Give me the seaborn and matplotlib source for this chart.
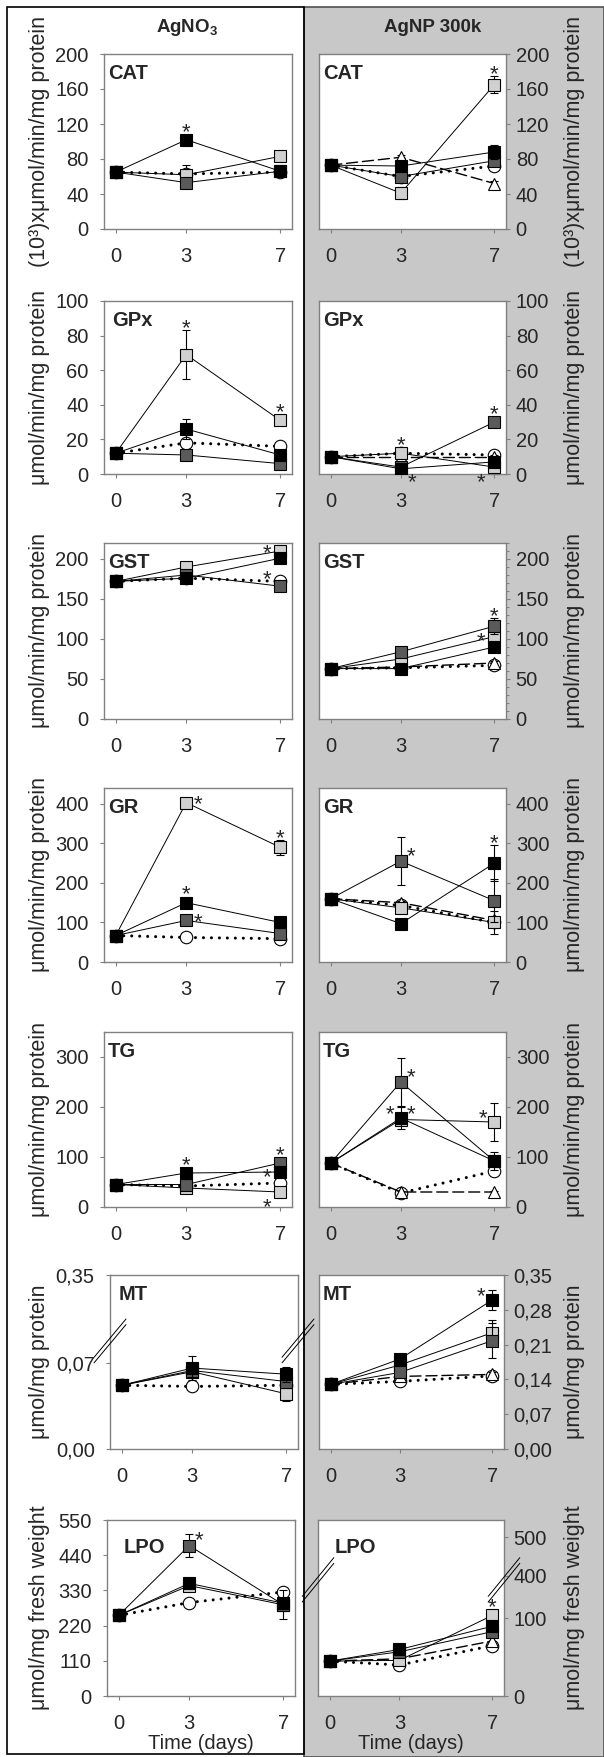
import matplotlib
matplotlib.use("Agg")
import matplotlib.pyplot as plt
from matplotlib.patches import Rectangle
from matplotlib.ticker import FixedLocator, FixedFormatter, MultipleLocator, NullLocator
import numpy as np
import pandas as pd
import seaborn as sns

DAYS = [0, 3, 7]
ENZYMES = ["CAT", "GPx", "GST", "GR", "TG", "MT", "LPO"]
YLABELS = ["(10³)xμmol/min/mg protein", "μmol/min/mg protein", "μmol/min/mg protein",
           "μmol/min/mg protein", "μmol/min/mg protein", "μmol/mg protein",
           "μmol/mg fresh weight"]
TITLES = ["AgNO$_\\mathbf{3}$", "AgNP 300k"]

# rows: CAT, GPx, GST, GR, TG, MT, LPO ; columns: day 0, 3, 7
# AgNO3
AG_CTRL = [[65, 63, 65], [12, 18, 16], [172, 176, 172], [67, 62, 59],
           [45, 42, 48], [0.052, 0.051, 0.052], [252, 292, 325]]
AG_LIGHT = [[65, 62, 83], [12, 69, 31], [172, 190, 210], [67, 403, 290],
            [45, 38, 30], [0.052, 0.063, 0.045], [252, 345, 285]]
AG_DARK = [[65, 53, 66], [12, 11, 6], [172, 180, 166], [67, 105, 72],
           [45, 45, 88], [0.052, 0.064, 0.055], [252, 470, 285]]
AG_BLACK = [[65, 102, 66], [12, 26, 11], [172, 176, 201], [67, 150, 100],
            [45, 68, 70], [0.052, 0.066, 0.061], [252, 352, 290]]
AG_CTRL_ERR = [[2, 10, 3], [1, 3, 2], [3, 3, 3], [3, 3, 3],
               [2, 2, 3], [0.002, 0.002, 0.002], [8, 5, 12]]
AG_LIGHT_ERR = [[2, 5, 4], [2, 14, 2], [3, 3, 3], [3, 5, 19],
                [2, 3, 3], [0.002, 0.004, 0.006], [8, 8, 10]]
AG_DARK_ERR = [[2, 4, 3], [1, 2, 2], [3, 3, 3], [3, 6, 5],
               [2, 3, 4], [0.002, 0.003, 0.004], [8, 35, 45]]
AG_BLACK_ERR = [[2, 3, 3], [1, 6, 2], [3, 3, 3], [3, 6, 8],
                [2, 4, 4], [0.002, 0.01, 0.006], [8, 10, 15]]

# AgNP 300k
NP_CTRL = [[73, 60, 72], [10, 12, 11], [63, 64, 67], [160, 143, 100],
           [88, 28, 72], [0.13, 0.136, 0.147], [45, 40, 65]]
NP_DISP = [[73, 82, 52], [10, 10, 10], [63, 65, 70], [160, 150, 105],
           [88, 30, 30], [0.13, 0.146, 0.15], [45, 48, 71]]
NP_LIGHT = [[73, 41, 165], [10, 12, 4], [63, 75, 103], [160, 137, 100],
            [88, 175, 170], [0.13, 0.169, 0.234], [45, 46, 104]]
NP_DARK = [[73, 60, 78], [10, 4, 30], [63, 84, 116], [160, 255, 155],
           [88, 250, 92], [0.13, 0.154, 0.218], [45, 57, 83]]
NP_BLACK = [[73, 72, 88], [10, 3, 7], [63, 63, 90], [160, 97, 250],
            [88, 178, 92], [0.13, 0.181, 0.30], [45, 60, 90]]
NP_CTRL_ERR = [[3, 4, 3], [1, 1, 1], [2, 2, 3], [5, 5, 5],
               [5, 3, 4], [0.005, 0.004, 0.004], [3, 3, 5]]
NP_DISP_ERR = [[3, 3, 3], [1, 1, 1], [2, 2, 3], [5, 5, 5],
               [5, 3, 3], [0.005, 0.004, 0.004], [3, 3, 4]]
NP_LIGHT_ERR = [[3, 7, 10], [1, 2, 1], [2, 2, 5], [5, 8, 30],
                [5, 5, 38], [0.005, 0.006, 0.025], [3, 3, 6]]
NP_DARK_ERR = [[3, 5, 5], [1, 1, 2], [2, 3, 10], [5, 60, 55],
               [5, 48, 5], [0.005, 0.006, 0.035], [3, 3, 4]]
NP_BLACK_ERR = [[3, 4, 8], [1, 1, 1], [2, 2, 5], [5, 5, 45],
                [5, 22, 18], [0.005, 0.006, 0.02], [3, 3, 4]]

AG_YTICKS = [[0, 40, 80, 120, 160, 200], [0, 20, 40, 60, 80, 100], [0, 50, 100, 150, 200],
             [0, 100, 200, 300, 400], [0, 100, 200, 300], [0, 0.07, 0.35],
             [0, 110, 220, 330, 440, 550]]
NP_YTICKS = [[0, 40, 80, 120, 160, 200], [0, 20, 40, 60, 80, 100], [0, 50, 100, 150, 200],
             [0, 100, 200, 300, 400], [0, 100, 200, 300], [0, 0.07, 0.14, 0.21, 0.28, 0.35],
             [0, 100, 400, 500]]
AG_YMAX = [200, 100, 220, 440, 350, 0.35, 550]
NP_YMAX = [200, 100, 220, 440, 350, 0.35, 545]

# significance marks: (endpoint, series, day, placement)
AG_STARS = [("CAT", "black", 3, "above"), ("GPx", "light", 3, "above"), ("GPx", "light", 7, "above"),
            ("GST", "light", 7, "highleft"), ("GST", "black", 7, "deepleft"),
            ("GR", "light", 3, "right"), ("GR", "light", 7, "above"), ("GR", "black", 3, "above"),
            ("GR", "dark", 3, "right"), ("TG", "black", 3, "above"), ("TG", "dark", 7, "above"),
            ("TG", "black", 7, "left"), ("TG", "light", 7, "lowleft"), ("LPO", "dark", 3, "upright")]
NP_STARS = [("CAT", "light", 7, "above"), ("GPx", "light", 3, "above"), ("GPx", "black", 3, "lowright"),
            ("GPx", "light", 7, "lowleft"), ("GPx", "dark", 7, "above"), ("GST", "dark", 7, "above"),
            ("GST", "light", 7, "left"), ("GR", "dark", 3, "upright"), ("GR", "black", 7, "above"),
            ("TG", "dark", 3, "upright"), ("TG", "black", 3, "upleft"), ("TG", "light", 3, "upright"),
            ("TG", "light", 7, "upleft"), ("MT", "black", 7, "upleft"), ("LPO", "light", 7, "above")]

STYLE = {
    "ctrl": dict(marker="o", face="white", ls=(0, (0.01, 2.6)), lw=2.2),
    "disp": dict(marker="^", face="white", ls=(0, (8, 3.5)), lw=1.0),
    "light": dict(marker="s", face="#d0d0d0", ls="-", lw=0.7),
    "dark": dict(marker="s", face="#5a5a5a", ls="-", lw=0.7),
    "black": dict(marker="s", face="black", ls="-", lw=0.7),
}

sns.set_style("white")
plt.rcParams["font.family"] = ["Liberation Sans", "DejaVu Sans"]
plt.rcParams["mathtext.fontset"] = "custom"
plt.rcParams["mathtext.rm"] = "Liberation Sans"
plt.rcParams["mathtext.bf"] = "Liberation Sans:bold"

W, H = 604, 1757
fig = plt.figure(figsize=(W / 100, H / 100), dpi=100)
fig.patch.set_facecolor("white")

# panel backgrounds
fig.patches.append(Rectangle((304 / W, 0), (W - 304) / W, 1 - 7 / H, transform=fig.transFigure,
                             facecolor="#c8c8c8", edgecolor="#505050", lw=1.2, zorder=-5))
fig.patches.append(Rectangle((7 / W, 3 / H), 297 / W, 1747 / H, transform=fig.transFigure,
                             facecolor="none", edgecolor="black", lw=1.2, zorder=-4))

TOPS = [54, 301, 543, 788, 1032, 1275, 1520]
BOTS = [229, 474, 719, 962, 1207, 1449, 1696]
AG_X = [(104, 292)] * 5 + [(110, 298), (107, 295)]
NP_X = [(319, 506)] * 5 + [(319, 504), (318, 504)]


def piecewise(data_pts, disp_pts):
    def fwd(y):
        return np.interp(y, data_pts, disp_pts)

    def inv(d):
        return np.interp(d, disp_pts, data_pts)
    return fwd, inv


def add_break(ax, yb):
    for x0 in (0, 1):
        for off in (-0.016, 0.016):
            ax.plot([x0 - 0.085, x0 + 0.085], [yb + off - 0.11, yb + off + 0.11],
                    transform=ax.transAxes, clip_on=False, color="black", lw=0.7, zorder=6)


def draw_series(ax, vals, errs, key, z):
    st = STYLE[key]
    df = pd.DataFrame({"day": DAYS, "value": vals})
    ax.errorbar(DAYS, vals, yerr=errs, fmt="none", ecolor="black", elinewidth=0.8,
                capsize=3, capthick=0.8, zorder=z - 0.5)
    sns.lineplot(data=df, x="day", y="value", ax=ax, color="black", lw=st["lw"],
                 linestyle=st["ls"], dash_capstyle="round", marker=st["marker"],
                 markersize=9, markerfacecolor=st["face"], markeredgecolor="black",
                 markeredgewidth=0.8, errorbar=None, zorder=z)


OFFS = {"left": (-13, 2), "right": (12, 5), "upleft": (-11, 11), "upright": (10, 12),
        "lowleft": (-13, -8), "lowright": (11, -6), "highleft": (-13, 5), "deepleft": (-13, -14)}


def add_star(ax, day, val, err, where):
    tr = ax.transData
    y_px = tr.transform((day, val))[1]
    e_px = tr.transform((day, val + err))[1] - y_px
    if where == "above":
        dx, dy = 0, max(6, e_px) + 9
    else:
        dx, dy = OFFS[where]
    ax.annotate("*", xy=(day, val), xytext=(dx, dy - 13), textcoords="offset pixels",
                ha="center", va="baseline", fontsize=16, annotation_clip=False, zorder=7)


columns = [
    dict(x=AG_X, side="left", ticks=AG_YTICKS, ymax=AG_YMAX, stars=AG_STARS,
         series=[("ctrl", AG_CTRL, AG_CTRL_ERR), ("light", AG_LIGHT, AG_LIGHT_ERR),
                 ("dark", AG_DARK, AG_DARK_ERR), ("black", AG_BLACK, AG_BLACK_ERR)]),
    dict(x=NP_X, side="right", ticks=NP_YTICKS, ymax=NP_YMAX, stars=NP_STARS,
         series=[("ctrl", NP_CTRL, NP_CTRL_ERR), ("disp", NP_DISP, NP_DISP_ERR),
                 ("light", NP_LIGHT, NP_LIGHT_ERR), ("dark", NP_DARK, NP_DARK_ERR),
                 ("black", NP_BLACK, NP_BLACK_ERR)]),
]

for c, col in enumerate(columns):
    for r, name in enumerate(ENZYMES):
        x0, x1 = col["x"][r]
        ax = fig.add_axes([x0 / W, 1 - BOTS[r] / H, (x1 - x0) / W, (BOTS[r] - TOPS[r]) / H])
        ax.set_facecolor("white")
        if c == 0 and name == "MT":
            ax.set_yscale("function", functions=piecewise([-10, 0, 0.1, 0.35, 10],
                                                           [-10, 0, 0.1, 0.1419, 1.759]))
        if c == 1 and name == "LPO":
            ax.set_yscale("function", functions=piecewise([-1e4, 0, 130, 380, 1e4],
                                                           [-1e4, 0, 130, 145.06, 4926]))
        sers = {}
        for z, (key, vals, errs) in enumerate(col["series"]):
            draw_series(ax, vals[r], errs[r], key, 3 + z)
            sers[key] = (vals[r], errs[r])

        ax.set_xlim(-0.5, 7.5)
        ax.set_ylim(0, col["ymax"][r])
        ax.xaxis.set_major_locator(FixedLocator(DAYS))
        ax.xaxis.set_major_formatter(FixedFormatter([str(d) for d in DAYS]))
        ticks = col["ticks"][r]
        if name == "MT":
            labels = [f"{t:.2f}".replace(".", ",") for t in ticks]
        else:
            labels = [str(t) for t in ticks]
        ax.yaxis.set_major_locator(FixedLocator(ticks))
        ax.yaxis.set_major_formatter(FixedFormatter(labels))
        ax.yaxis.set_minor_locator(NullLocator())
        if c == 1 and name == "GST":
            ax.yaxis.set_minor_locator(MultipleLocator(10))

        for sp in ax.spines.values():
            sp.set_visible(True)
            sp.set_color("#808080")
            sp.set_linewidth(1.0)
        ax.tick_params(axis="x", bottom=True, direction="out", length=3, width=0.8,
                       color="#808080", labelsize=14.5, pad=10)
        ax.tick_params(axis="y", which="both", direction="out", width=0.8, color="#808080",
                       labelsize=14.5)
        ax.tick_params(axis="y", which="major", length=3)
        ax.tick_params(axis="y", which="minor", length=2)
        ylab_kw = dict(fontsize=15.5)
        if c == 0:
            ax.tick_params(axis="y", left=True, right=False, pad=8)
            ax.set_ylabel(YLABELS[r], **ylab_kw)
            ax.yaxis.set_label_coords((50 - x0) / (x1 - x0), 0.5)
        else:
            ax.yaxis.tick_right()
            ax.yaxis.set_label_position("right")
            ax.tick_params(axis="y", which="both", right=True, left=False, pad=4)
            ax.set_ylabel(YLABELS[r], rotation=90, **ylab_kw)
            ax.yaxis.set_label_coords((564 - x0) / (x1 - x0), 0.5)

        if r == len(ENZYMES) - 1:
            ax.set_xlabel("Time (days)", fontsize=14.5, labelpad=0.5)
        else:
            ax.set_xlabel("")

        lx = 0.02 if name != "LPO" else 0.09
        if name in ("GPx", "MT") and c == 0:
            lx = 0.045
        ly = 0.845 if name == "LPO" else 0.89
        ax.text(lx, ly, name, transform=ax.transAxes, fontsize=14.5, fontweight="bold",
                ha="left", va="center", zorder=8)

        if c == 0 and name == "MT":
            add_break(ax, 0.621)
        if c == 1 and name == "LPO":
            add_break(ax, 0.66)

        for (en, key, day, where) in col["stars"]:
            if en != name:
                continue
            vals, errs = sers[key]
            i = DAYS.index(day)
            add_star(ax, day, vals[i], errs[i], where)

fig.text(187 / W, 1 - 27 / H, TITLES[0], ha="center", va="center", fontsize=13.5, fontweight="bold")
fig.text(433 / W, 1 - 27 / H, TITLES[1], ha="center", va="center", fontsize=13.5, fontweight="bold")

fig.savefig("out.png", dpi=100, facecolor=fig.get_facecolor())
